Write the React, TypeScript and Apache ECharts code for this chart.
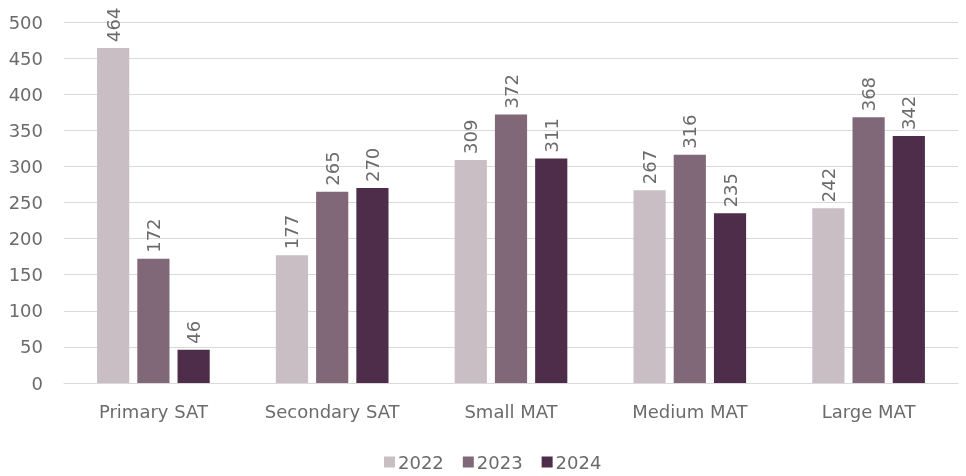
import React, { useEffect, useRef } from "react";
import * as echarts from "echarts";

const categories = ["Primary SAT", "Secondary SAT", "Small MAT", "Medium MAT", "Large MAT"];
const years = ["2022", "2023", "2024"];
const values2022 = [464, 177, 309, 267, 242];
const values2023 = [172, 265, 372, 316, 368];
const values2024 = [46, 270, 311, 235, 342];
const colors = ["#C8BEC4", "#806879", "#4E2D4A"];

export default function App() {
  const ref = useRef<HTMLDivElement>(null);
  useEffect(() => {
    if (!ref.current) return;
    const chart = echarts.init(ref.current, null, { renderer: "svg" });
    const font = "DejaVu Sans";
    const textColor = "#6B6B6B";
    const seriesData = [values2022, values2023, values2024];
    chart.setOption({
      animation: false,
      color: colors,
      textStyle: { fontFamily: font },
      grid: { left: 64, right: 8, top: 22, bottom: 93, containLabel: false },
      legend: {
        bottom: 0,
        left: 379,
        itemWidth: 11,
        itemHeight: 11,
        itemGap: 19,
        icon: "rect",
        textStyle: { fontFamily: font, fontSize: 18, color: textColor, padding: [0, 0, 0, -2] },
        data: years,
      },
      xAxis: {
        type: "category",
        data: categories,
        axisLine: { show: true, lineStyle: { color: "#D9D9D9" } },
        axisTick: { show: false },
        axisLabel: { fontFamily: font, fontSize: 18, color: textColor, margin: 19 },
      },
      yAxis: {
        type: "value",
        min: 0,
        max: 500,
        interval: 50,
        axisLine: { show: false },
        axisTick: { show: false },
        splitLine: { lineStyle: { color: "#D9D9D9" } },
        axisLabel: { fontFamily: font, fontSize: 18, color: textColor, margin: 21, align: "right" },
      },
      series: years.map((y, i) => ({
        name: y,
        type: "bar",
        data: seriesData[i],
        barGap: "25%",
        barCategoryGap: "37%",
        label: {
          show: true,
          position: "top",
          rotate: 90,
          align: "left",
          verticalAlign: "middle",
          distance: 6,
          fontFamily: font,
          fontSize: 18,
          color: textColor,
        },
      })),
    });
    return () => chart.dispose();
  }, []);
  return <div ref={ref} style={{ position: "fixed", left: 0, top: 0, width: 966, height: 476 }} />;
}
